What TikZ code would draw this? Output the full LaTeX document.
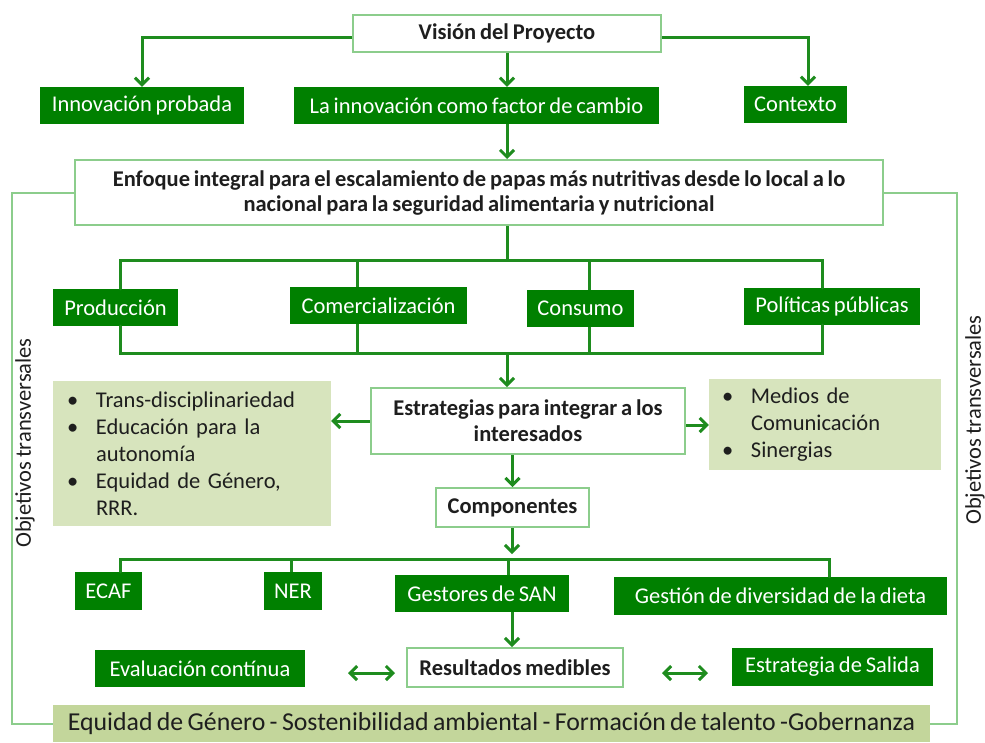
\documentclass[tikz,border=0pt]{standalone}
\usepackage{fontspec}
\setmainfont[WordSpace=0.75]{Carlito}
\usetikzlibrary{arrows.meta}
\definecolor{dg}{RGB}{0,128,0}
\definecolor{lnc}{RGB}{30,140,30}
\definecolor{lbc}{RGB}{140,205,140}
\definecolor{txc}{RGB}{30,30,30}
\definecolor{pale}{RGB}{215,228,189}
\definecolor{barc}{RGB}{195,214,155}
\newcommand{\fsz}{\fontsize{22.5}{26}\selectfont}
\newcommand{\fsb}{\fontsize{22.5}{27}\selectfont}
\newcommand{\mybul}{\makebox[29pt][l]{\textbullet}}
\newcommand{\myind}{\hspace*{29pt}}
\begin{document}
\begin{tikzpicture}[x=1pt,y=-1pt,
 gbox/.style={fill=dg,text=white,inner sep=0pt,font=\fsz},
 wbox/.style={fill=white,draw=lbc,line width=2pt,text=txc,inner sep=0pt,font=\fsz\bfseries,align=center},
 pbox/.style={fill=pale,text=txc,inner sep=0pt,font=\fsb,align=left},
 conn/.style={draw=lnc,line width=3pt},
 arr/.style={conn,-{Straight Barb[length=7pt,width=14pt]}},
 darr/.style={conn,{Straight Barb[length=7pt,width=14pt]}-{Straight Barb[length=7pt,width=14pt]}},
 loopl/.style={draw=lbc,line width=2pt},
 side/.style={text=txc,font=\fsz,rotate=90,inner sep=0pt}]
\useasboundingbox[fill=white] (0,0) rectangle (985,742);

% nodes
\node[wbox,minimum width=308pt,minimum height=37pt] (vision) at (507,33) {Visión del Proyecto};
\node[gbox,minimum width=204pt,minimum height=37pt] (innov) at (142,105.5) {Innovación probada};
\node[gbox,minimum width=365pt,minimum height=37pt] (cambio) at (476.5,105.5) {La innovación como factor de cambio};
\node[gbox,minimum width=103pt,minimum height=37pt] (contexto) at (795.5,104.5) {Contexto};
\node[wbox,minimum width=808pt,minimum height=65pt,font=\fontsize{22.5}{25}\selectfont\bfseries] (enfoque) at (479,192.5)
 {Enfoque integral para el escalamiento de papas más nutritivas desde lo local a lo\\nacional para la seguridad alimentaria y nutricional};
\node[gbox,minimum width=125pt,minimum height=37pt] (prod) at (115.5,307.5) {Producción};
\node[gbox,minimum width=177pt,minimum height=37pt] (comer) at (378.5,305.5) {Comercialización};
\node[gbox,minimum width=107pt,minimum height=37pt] (consumo) at (580.5,308.5) {Consumo};
\node[gbox,minimum width=176pt,minimum height=37pt] (polit) at (832,306.5) {Políticas públicas};
\node[pbox,minimum width=278pt,minimum height=145pt,text width=250pt] (leftbox) at (192,453.5)
 {\mybul Trans-disciplinariedad\\\mybul Educación para la\\\myind autonomía\\\mybul Equidad de Género,\\\myind RRR.};
\node[wbox,minimum width=314pt,minimum height=66pt] (estrat) at (528,421) {Estrategias para integrar a los\\interesados};
\node[pbox,minimum width=232pt,minimum height=91pt,text width=206pt] (rightbox) at (825,424.5)
 {\mybul Medios de\\\myind Comunicación\\\mybul Sinergias};
\node[wbox,minimum width=153pt,minimum height=39pt] (comp) at (512.5,507.5) {Componentes};
\node[gbox,minimum width=67pt,minimum height=38pt] (ecaf) at (108.5,591) {ECAF};
\node[gbox,minimum width=58pt,minimum height=38pt] (ner) at (293,591) {NER};
\node[gbox,minimum width=174pt,minimum height=37pt] (gestores) at (482,593.5) {Gestores de SAN};
\node[gbox,minimum width=333pt,minimum height=38pt] (gestion) at (780.5,596) {Gestión de diversidad de la dieta};
\node[wbox,minimum width=216pt,minimum height=39pt] (result) at (515,667.5) {Resultados medibles};
\node[gbox,minimum width=210pt,minimum height=37pt] (eval) at (200,668.5) {Evaluación contínua};
\node[gbox,minimum width=201pt,minimum height=38pt] (salida) at (832.5,667) {Estrategia de Salida};
\node[fill=barc,text=txc,inner sep=0pt,minimum width=877pt,minimum height=37pt,font=\fontsize{25.8}{28}\selectfont] (bar) at (491.5,723.5)
 {Equidad de Género - Sostenibilidad ambiental - Formación de talento -Gobernanza};
\node[side] (objl) at (25,443) {Objetivos transversales};
\node[side] (objr) at (975,420) {Objetivos transversales};

% coordinates
\coordinate (ax) at (507,0);
\coordinate (cx) at (808,0);
\coordinate (lx) at (12,0);
\coordinate (rx) at (957,0);
\coordinate (b0) at (507,260);
\coordinate (b1) at (120,260);
\coordinate (b2) at (357,260);
\coordinate (b3) at (589,260);
\coordinate (b4) at (822,260);
\coordinate (c0) at (507,353);
\coordinate (c1) at (120,353);
\coordinate (c4) at (822,353);
\coordinate (k0) at (512,559);
\coordinate (k1) at (120,559);
\coordinate (k2) at (291,559);
\coordinate (k3) at (508,559);
\coordinate (k4) at (829,559);
\coordinate (kx) at (512,0);
\coordinate (d1a) at (348,673);
\coordinate (d1b) at (395,673);
\coordinate (d2a) at (662,673);
\coordinate (d2b) at (708,673);

% top connectors
\draw[arr] ([yshift=-4pt]vision.west) -| (innov.north);
\draw[arr] ([yshift=-4pt]vision.east) -| (contexto.north -| cx);
\draw[arr] (vision.south -| ax) -- (cambio.north -| ax);
\draw[arr] (cambio.south -| ax) -- (enfoque.north -| ax);

% outer loop
\draw[loopl] (enfoque.west) -- (enfoque.west -| lx) -- (bar.west -| lx) -- (bar.west);
\draw[loopl] (enfoque.east) -- (enfoque.east -| rx) -- (bar.east -| rx) -- (bar.east);

% pillars
\draw[conn] (enfoque.south -| b0) -- (b0);
\draw[conn,line cap=round] (prod.north -| b1) -- (b1) -- (b4) -- (polit.north -| b4);
\draw[conn] (b2) -- (comer.north -| b2);
\draw[conn] (b3) -- (consumo.north -| b3);
\draw[conn,line cap=round] (prod.south -| b1) -- (c1) -- (c4) -- (polit.south -| b4);
\draw[conn] (comer.south -| b2) -- (c1 -| b2);
\draw[conn] (consumo.south -| b3) -- (c1 -| b3);
\draw[arr] (c0) -- (estrat.north -| c0);

% strategies
\draw[arr] (estrat.west) -- (estrat.west -| leftbox.east);
\draw[arr] ([yshift=-4pt]estrat.east) -- ([yshift=-4pt]estrat.east -| rightbox.west);
\draw[arr] (estrat.south -| comp.north) -- (comp.north);

% components
\draw[arr] (comp.south -| k0) -- ([yshift=5pt]k0);
\draw[conn,line cap=round] (ecaf.north -| k1) -- (k1) -- (k4) -- (gestion.north -| k4);
\draw[conn] (k2) -- (ner.north -| k2);
\draw[conn] (k3) -- (gestores.north -| k3);
\draw[arr] (gestores.south -| kx) -- (result.north -| kx);

% results
\draw[darr] (d1a) -- (d1b);
\draw[darr] (d2a) -- (d2b);
\end{tikzpicture}
\end{document}
